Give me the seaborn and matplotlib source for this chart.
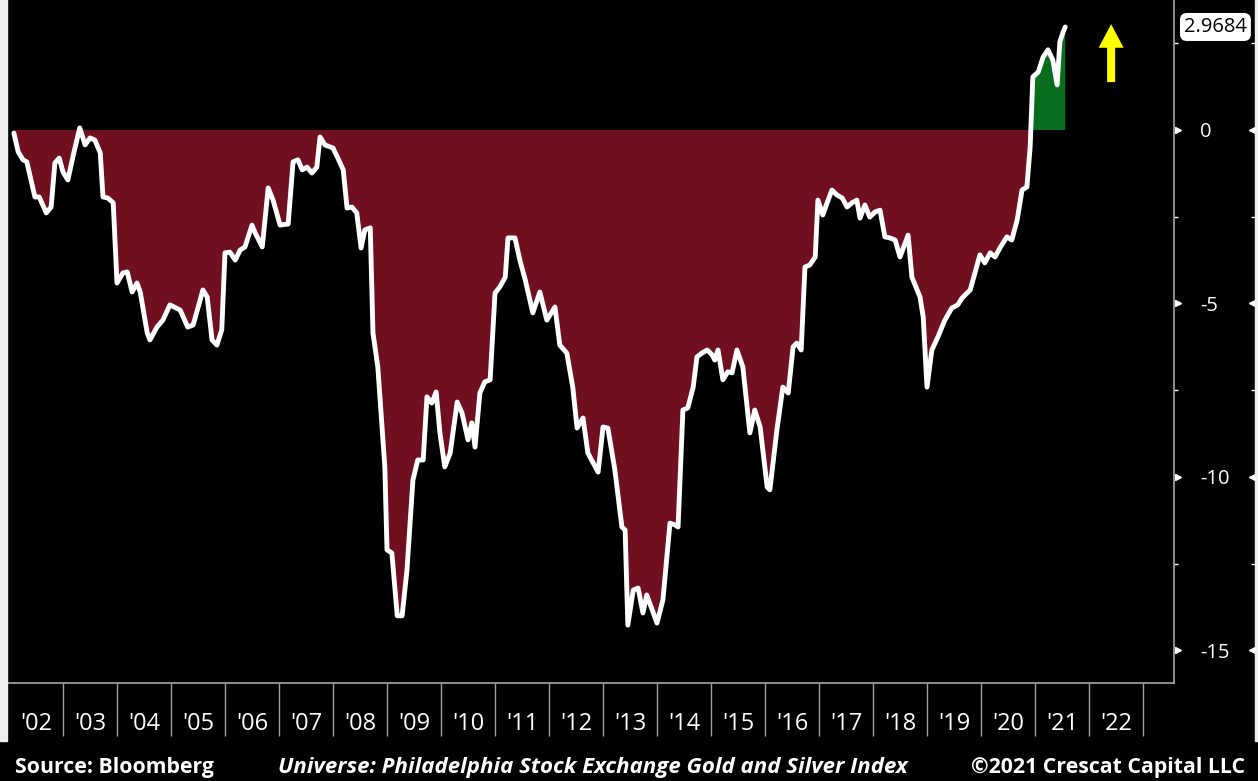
import matplotlib
matplotlib.use("Agg")
import matplotlib.pyplot as plt
from matplotlib import font_manager
from matplotlib.patches import Rectangle
import pandas as pd
import seaborn as sns

# decimal year / index value
dates = [
    2002.09, 2002.17, 2002.26, 2002.33, 2002.48, 2002.56, 2002.69, 2002.78, 2002.85, 2002.93,
    2003.00, 2003.09, 2003.20, 2003.31, 2003.41, 2003.50, 2003.59, 2003.69, 2003.74, 2003.83,
    2003.93, 2004.00, 2004.11, 2004.19, 2004.28, 2004.37, 2004.43, 2004.56, 2004.61, 2004.74,
    2004.85, 2004.98, 2005.17, 2005.31, 2005.41, 2005.54, 2005.59, 2005.67, 2005.76, 2005.85,
    2005.94, 2006.00, 2006.09, 2006.19, 2006.28, 2006.37, 2006.50, 2006.56, 2006.69, 2006.80,
    2006.89, 2007.02, 2007.17, 2007.26, 2007.35, 2007.43, 2007.52, 2007.61, 2007.70, 2007.76,
    2007.85, 2008.00, 2008.09, 2008.19, 2008.26, 2008.35, 2008.44, 2008.52, 2008.59, 2008.69,
    2008.74, 2008.83, 2008.96, 2009.00, 2009.09, 2009.19, 2009.28, 2009.37, 2009.48, 2009.57,
    2009.67, 2009.74, 2009.83, 2009.91, 2009.98, 2010.07, 2010.17, 2010.30, 2010.39, 2010.50,
    2010.57, 2010.63, 2010.72, 2010.81, 2010.91, 2011.00, 2011.09, 2011.19, 2011.24, 2011.37,
    2011.46, 2011.56, 2011.70, 2011.83, 2011.96, 2012.11, 2012.20, 2012.33, 2012.44, 2012.52,
    2012.63, 2012.72, 2012.91, 2013.00, 2013.09, 2013.22, 2013.35, 2013.41, 2013.46, 2013.56,
    2013.65, 2013.74, 2013.81, 2013.91, 2014.00, 2014.11, 2014.24, 2014.33, 2014.39, 2014.48,
    2014.57, 2014.67, 2014.74, 2014.83, 2014.93, 2015.02, 2015.07, 2015.13, 2015.22, 2015.31,
    2015.39, 2015.48, 2015.59, 2015.72, 2015.81, 2015.91, 2016.04, 2016.09, 2016.22, 2016.33,
    2016.43, 2016.52, 2016.59, 2016.67, 2016.74, 2016.83, 2016.93, 2016.98, 2017.07, 2017.15,
    2017.24, 2017.33, 2017.43, 2017.52, 2017.61, 2017.70, 2017.76, 2017.85, 2017.94, 2018.04,
    2018.13, 2018.22, 2018.31, 2018.41, 2018.50, 2018.65, 2018.72, 2018.87, 2018.93, 2019.00,
    2019.09, 2019.20, 2019.33, 2019.46, 2019.57, 2019.65, 2019.80, 2019.98, 2020.07, 2020.17,
    2020.26, 2020.35, 2020.48, 2020.57, 2020.67, 2020.76, 2020.85, 2020.91, 2020.96, 2021.06,
    2021.15, 2021.24, 2021.33, 2021.41, 2021.46, 2021.52, 2021.56,
]
values = [
    -0.09, -0.63, -0.86, -0.92, -1.93, -1.93, -2.39, -2.22, -0.95, -0.81,
    -1.21, -1.44, -0.66, 0.06, -0.43, -0.23, -0.29, -0.66, -1.93, -1.96,
    -2.10, -4.41, -4.12, -4.09, -4.67, -4.41, -4.67, -5.85, -6.05, -5.68,
    -5.48, -5.04, -5.19, -5.68, -5.62, -4.90, -4.61, -4.81, -6.05, -6.20,
    -5.76, -3.54, -3.52, -3.75, -3.46, -3.37, -2.74, -2.97, -3.37, -1.67,
    -2.02, -2.74, -2.71, -0.92, -0.86, -1.15, -1.07, -1.24, -1.07, -0.20,
    -0.43, -0.52, -0.81, -1.15, -2.25, -2.22, -2.39, -3.40, -2.88, -2.82,
    -5.85, -6.83, -9.71, -12.10, -12.19, -14.00, -14.00, -12.68, -10.09, -9.51,
    -9.51, -7.69, -7.87, -7.55, -8.73, -9.71, -9.31, -7.84, -8.16, -8.93,
    -8.44, -9.14, -7.58, -7.26, -7.20, -4.70, -4.52, -4.24, -3.11, -3.11,
    -3.75, -4.32, -5.27, -4.67, -5.48, -5.10, -6.20, -6.43, -7.41, -8.59,
    -8.30, -9.31, -9.86, -8.56, -8.59, -9.80, -11.44, -11.53, -14.27, -13.26,
    -13.20, -13.92, -13.40, -13.83, -14.21, -13.54, -11.33, -11.38, -11.44, -8.07,
    -8.01, -7.41, -6.54, -6.43, -6.34, -6.48, -6.63, -6.34, -7.20, -6.97,
    -7.00, -6.34, -6.83, -8.73, -8.07, -8.56, -10.29, -10.37, -8.65, -7.41,
    -7.58, -6.25, -6.14, -6.34, -3.95, -3.89, -3.66, -2.02, -2.45, -2.10,
    -1.73, -1.87, -1.96, -2.22, -2.10, -2.02, -2.54, -2.16, -2.51, -2.36,
    -2.31, -3.08, -3.11, -3.17, -3.66, -3.03, -4.24, -4.81, -5.39, -7.41,
    -6.34, -5.97, -5.48, -5.13, -5.04, -4.84, -4.61, -3.60, -3.83, -3.54,
    -3.66, -3.40, -3.08, -3.17, -2.59, -1.73, -1.64, -0.49, 1.53, 1.67,
    2.10, 2.31, 2.02, 1.30, 2.54, 2.82, 2.9684,
]
year_starts = list(range(2003, 2024))
year_mids = [y + 0.5 for y in range(2002, 2023)]
year_labels = ["'02", "'03", "'04", "'05", "'06", "'07", "'08", "'09", "'10", "'11", "'12",
               "'13", "'14", "'15", "'16", "'17", "'18", "'19", "'20", "'21", "'22"]
y_major = [0, -5, -10, -15]
y_minor = [2.5, -2.5, -7.5, -12.5]
last_label = "2.9684"

df = pd.DataFrame({"date": dates, "value": values})

sns.set_style("dark", {"axes.facecolor": "black", "figure.facecolor": "black"})
names = {f.name for f in font_manager.fontManager.ttflist}
narrow = "Liberation Sans Narrow" if "Liberation Sans Narrow" in names else "Open Sans"
plt.rcParams["font.family"] = ["Open Sans", "DejaVu Sans"]

W, H = 1258, 781
fig = plt.figure(figsize=(W / 100, H / 100), dpi=100, facecolor="black")
ax = fig.add_axes([7 / W, 98 / H, 1167 / W, 683 / H])
ax.set_facecolor("black")

ax.fill_between(df["date"], df["value"], 0, where=df["value"] <= 0, interpolate=True,
                color="#700f20", lw=0)
ax.fill_between(df["date"], df["value"], 0, where=df["value"] >= 0, interpolate=True,
                color="#086e1e", lw=0)
sns.lineplot(data=df, x="date", y="value", color="white", lw=3.5, ax=ax,
             solid_joinstyle="round", solid_capstyle="round")

ax.set_xlim(2001.963, 2023.574)
ax.set_ylim(-15.937, 3.746)
ax.set_xlabel("")
ax.set_ylabel("")
ax.grid(False)

# x axis: separators at year starts, labels centred in each year
ax.set_xticks(year_starts)
ax.set_xticklabels([])
ax.set_xticks(year_mids, minor=True)
ax.set_xticklabels(year_labels, minor=True, family=narrow)
ax.tick_params(axis="x", which="major", bottom=True, length=38, width=1, color="#a0a0a0")
ax.tick_params(axis="x", which="minor", bottom=True, length=0, pad=21, labelsize=17,
               labelcolor="white")

# y axis on the right
ax.yaxis.tick_right()
ax.set_yticks(y_major)
ax.set_yticklabels([str(v) for v in y_major], family=narrow)
ax.set_yticks(y_minor, minor=True)
ax.tick_params(axis="y", which="major", right=True, left=False, length=0, pad=19,
               labelsize=14.5, labelcolor="white")
ax.tick_params(axis="y", which="minor", right=True, left=False, length=3, width=1,
               color="white", direction="out")
ytr = ax.get_yaxis_transform()
ax.plot([1.0034] * len(y_major), y_major, ">", ms=5, color="white", transform=ytr, clip_on=False)
ax.plot([1.0668] * len(y_major), y_major, "<", ms=5, color="white", transform=ytr, clip_on=False)
ax.plot([1.0688] * len(y_minor), y_minor, "_", ms=5, mew=1, color="white", transform=ytr,
        clip_on=False)

for side in ["top", "left"]:
    ax.spines[side].set_visible(False)
for side in ["right", "bottom"]:
    ax.spines[side].set_visible(True)
    ax.spines[side].set_color("#a6a6a6")
    ax.spines[side].set_linewidth(1.2)

# last value tag
ax.text(1.0355, values[-1], last_label, transform=ytr, ha="center", va="center",
        color="black", fontsize=14.5, family=narrow,
        bbox=dict(boxstyle="round,pad=0.2,rounding_size=0.35", fc="white", ec="none"))

# yellow up arrow
ax.annotate("", xy=(2022.41, 3.05), xytext=(2022.41, 1.38),
            arrowprops=dict(facecolor="#ffff00", edgecolor="none", width=5.8,
                            headwidth=18, headlength=17, shrink=0))

# side strips
fig.patches.append(Rectangle((0, 40 / H), 7 / W, 741 / H, transform=fig.transFigure,
                             color="#eeeeee", zorder=0))
fig.patches.append(Rectangle((1255 / W, 40 / H), 3 / W, 741 / H, transform=fig.transFigure,
                             color="#eeeeee", zorder=0))

# footer
fy = 1 - 767 / H
fig.text(15 / W, fy, "Source: Bloomberg", color="white", fontsize=15.3, fontweight="bold",
         va="center", ha="left")
fig.text(593 / W, fy, "Universe: Philadelphia Stock Exchange Gold and Silver Index",
         color="white", fontsize=16, fontweight="bold", style="italic", va="center", ha="center")
fig.text(1245 / W, fy, "\u00a92021 Crescat Capital LLC", color="white", fontsize=15.3,
         fontweight="bold", va="center", ha="right")

fig.savefig("out.png", dpi=100, facecolor="black")
